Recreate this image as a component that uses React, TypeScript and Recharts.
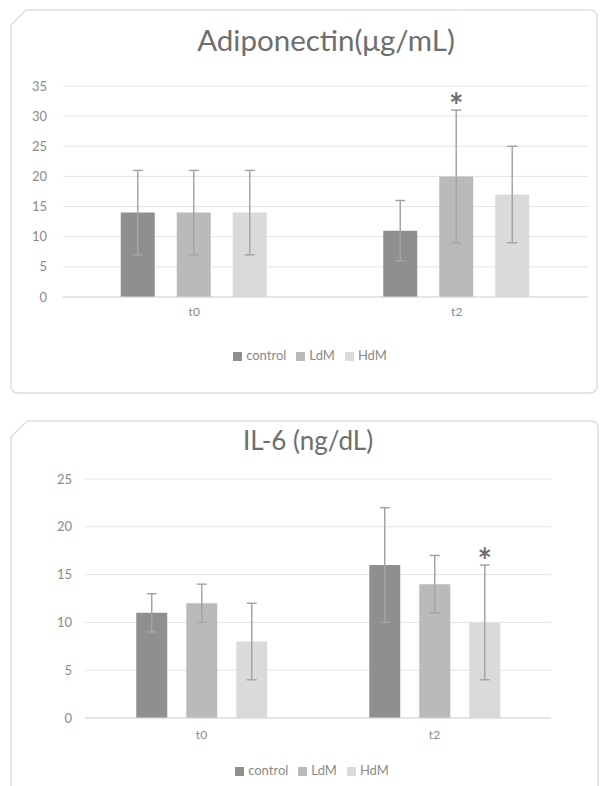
import React from 'react';
import { BarChart, Bar, XAxis, YAxis, CartesianGrid, Legend, ErrorBar, LabelList } from 'recharts';

const timepoints = ['t0', 't2'];
const seriesNames = ['control', 'LdM', 'HdM'];
const seriesColors = ['#8e8f8e', '#b9babb', '#d9dadb'];

// Adiponectin (µg/mL)
const adipoControl = [14, 11];
const adipoLdM = [14, 20];
const adipoHdM = [14, 17];
const adipoControlErr = [7, 5];
const adipoLdMErr = [7, 11];
const adipoHdMErr = [7, 8];
const adipoControlStar = ['', ''];
const adipoLdMStar = ['', '*'];
const adipoHdMStar = ['', ''];
const adipoTicks = [0, 5, 10, 15, 20, 25, 30, 35];

// IL-6 (ng/dL)
const il6Control = [11, 16];
const il6LdM = [12, 14];
const il6HdM = [8, 10];
const il6ControlErr = [2, 6];
const il6LdMErr = [2, 3];
const il6HdMErr = [4, 6];
const il6ControlStar = ['', ''];
const il6LdMStar = ['', ''];
const il6HdMStar = ['', '*'];
const il6Ticks = [0, 5, 10, 15, 20, 25];

const FONT = 'Lato, "Open Sans", sans-serif';
const TEXT = '#8a8a8a';
const GRID = '#e4e4e4';
const BORDER = '#dedede';

function buildRows(vals: number[][], errs: number[][], stars: string[][]) {
  return timepoints.map((t, i) => {
    const row: any = { name: t };
    seriesNames.forEach((s, j) => {
      row[s] = vals[j][i];
      row[s + 'Err'] = errs[j][i];
      row[s + 'Star'] = stars[j][i];
    });
    return row;
  });
}

// star sits just above the error bar whisker, using the bar's own px-per-unit
const starLabel = (vals: number[], errs: number[]) => (props: any) => {
  const { index, value } = props;
  if (!value) return null;
  const vb = props.viewBox ?? props;
  const pxPerUnit = vb.height / vals[index];
  const top = vb.y - errs[index] * pxPerUnit;
  return (
    <text x={vb.x + vb.width / 2} y={top + 8} textAnchor="middle" fontSize={34} fontWeight={700} fill="#6f6f6f" fontFamily={FONT}>
      {value}
    </text>
  );
};

function renderBars(vals: number[][], errs: number[][]) {
  return seriesNames.map((s, j) => (
    <Bar key={s} dataKey={s} fill={seriesColors[j]} isAnimationActive={false}>
      <ErrorBar dataKey={s + 'Err'} width={5} strokeWidth={1.5} stroke="#a5a5a5" direction="y" />
      <LabelList dataKey={s + 'Star'} content={starLabel(vals[j], errs[j])} />
    </Bar>
  ));
}

const legendFormatter = (v: string) => <span style={{ color: TEXT }}>{v}</span>;
const legendOrder = (item: any) => seriesNames.indexOf(item.dataKey ?? item.value);

export default function App() {
  const adipoVals = [adipoControl, adipoLdM, adipoHdM];
  const adipoErrs = [adipoControlErr, adipoLdMErr, adipoHdMErr];
  const il6Vals = [il6Control, il6LdM, il6HdM];
  const il6Errs = [il6ControlErr, il6LdMErr, il6HdMErr];
  const adipoRows = buildRows(adipoVals, adipoErrs, [adipoControlStar, adipoLdMStar, adipoHdMStar]);
  const il6Rows = buildRows(il6Vals, il6Errs, [il6ControlStar, il6LdMStar, il6HdMStar]);

  return (
    <div style={{ position: 'absolute', left: 0, top: 0, width: 602, height: 786, background: '#fff', fontFamily: FONT, overflow: 'hidden' }}>
      <svg width={602} height={786} style={{ position: 'absolute', left: 0, top: 0 }}>
        <path d="M11,25 L26,10 L590,10 Q597,10 597,17 L597,386 Q597,393 590,393 L18,393 Q11,393 11,386 Z" fill="none" stroke={BORDER} strokeWidth={1.5} />
        <path d="M11,800 L11,437 L27,421 L591,421 Q598,421 598,428 L598,800" fill="none" stroke={BORDER} strokeWidth={1.5} />
        <text x={326} y={51} textAnchor="middle" fontSize={29.5} fill="#6e6e6e" fontFamily={FONT}>Adiponectin(μg/mL)</text>
        <text x={308} y={450} textAnchor="middle" fontSize={26} fill="#6e6e6e" fontFamily={FONT}>IL-6 (ng/dL)</text>
      </svg>

      <div style={{ position: 'absolute', left: 0, top: 0 }}>
        <BarChart width={602} height={400} data={adipoRows} margin={{ top: 86, right: 14, bottom: 37, left: 13 }} barGap={22} barCategoryGap="22%">
          <CartesianGrid vertical={false} stroke={GRID} />
          <XAxis dataKey="name" height={50} tickLine={false} tickSize={0} tickMargin={10} axisLine={{ stroke: '#d9d9d9' }} tick={{ fontSize: 12, fill: TEXT }} />
          <YAxis domain={[0, 35]} ticks={adipoTicks} width={50} axisLine={false} tickLine={false} tickSize={0} tickMargin={16} tick={{ fontSize: 13, fill: TEXT }} />
          <Legend verticalAlign="bottom" align="center" iconType="square" iconSize={9} formatter={legendFormatter} itemSorter={legendOrder}
            wrapperStyle={{ left: 96, width: 438, fontSize: 13, lineHeight: '16px' }} />
          {renderBars(adipoVals, adipoErrs)}
        </BarChart>
      </div>

      <div style={{ position: 'absolute', left: 0, top: 400 }}>
        <BarChart width={602} height={386} data={il6Rows} margin={{ top: 79, right: 51, bottom: 8, left: 35 }} barGap={19} barCategoryGap="22%">
          <CartesianGrid vertical={false} stroke={GRID} />
          <XAxis dataKey="name" height={44} tickLine={false} tickSize={0} tickMargin={12} axisLine={{ stroke: '#d9d9d9' }} tick={{ fontSize: 12, fill: TEXT }} />
          <YAxis domain={[0, 25]} ticks={il6Ticks} width={50} axisLine={false} tickLine={false} tickSize={0} tickMargin={13} tick={{ fontSize: 13, fill: TEXT }} />
          <Legend verticalAlign="bottom" align="center" iconType="square" iconSize={9} formatter={legendFormatter} itemSorter={legendOrder}
            wrapperStyle={{ left: 106, width: 422, fontSize: 13, lineHeight: '16px' }} />
          {renderBars(il6Vals, il6Errs)}
        </BarChart>
      </div>
    </div>
  );
}
